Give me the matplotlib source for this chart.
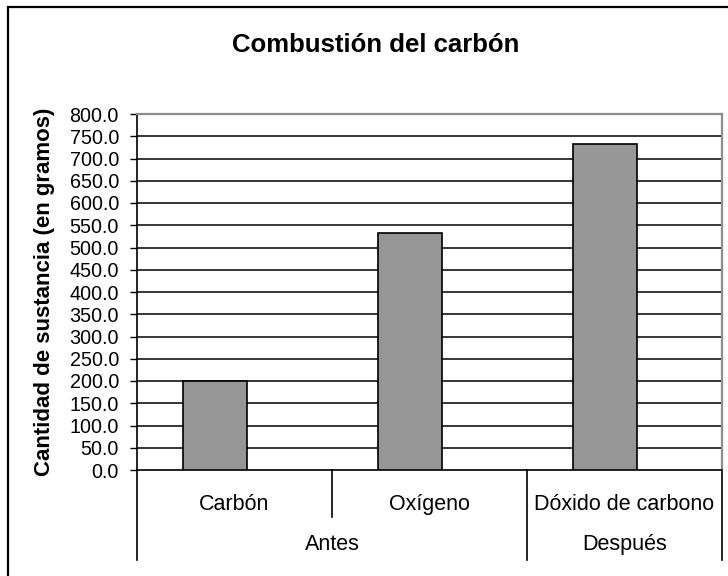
import matplotlib
matplotlib.use("Agg")
import matplotlib.pyplot as plt
from matplotlib.patches import Rectangle
from matplotlib.transforms import blended_transform_factory

plt.rcParams['font.family'] = ['Liberation Sans', 'DejaVu Sans']

# Datos de la combustión (gramos)
sustancias = ["Carbón", "Oxígeno", "Dóxido de carbono"]
cantidades = [200.0, 533.3, 733.3]
grupos = ["Antes", "Después"]
grupo_de = [0, 0, 1]
y_ticks = [i * 50 for i in range(17)]

fig = plt.figure(figsize=(7.28, 5.76), dpi=100)
ax = fig.add_axes([137 / 728, 1 - 470 / 576, 585 / 728, 356 / 576])

# marco exterior del gráfico
fig.patches.append(Rectangle((8 / 728, -0.2), 1.2, 1 - 7 / 576 + 0.2,
                             transform=fig.transFigure, fill=False,
                             edgecolor="black", linewidth=1.6))

x = list(range(len(sustancias)))
ax.bar([i - 0.1 for i in x], cantidades, width=0.333, color="#969696",
       edgecolor="black", linewidth=1.2, zorder=3)

ax.set_xlim(-0.5, len(sustancias) - 0.5)
ax.set_ylim(0, 800)
ax.set_yticks(y_ticks)
ax.set_yticklabels([f"{v:.1f}" for v in y_ticks], fontsize=14.2)
ax.tick_params(axis="y", length=5, width=1, pad=8, color="black")
ax.set_xticks([])

for v in y_ticks[1:-1]:
    ax.axhline(v, color="black", linewidth=1.1, zorder=1)

ax.spines["left"].set_linewidth(1.2)
ax.spines["bottom"].set_linewidth(1.2)
for s in ("top", "right"):
    ax.spines[s].set_color("#8c8c8c")
    ax.spines[s].set_linewidth(1.6)

fig.text(45 / 728, 1 - 292 / 576, "Cantidad de sustancia (en gramos)",
         rotation=90, ha="center", va="center", fontsize=16,
         fontweight="bold")

# ejes de categorías en dos niveles
tr = blended_transform_factory(ax.transData, ax.transAxes)
for i, nombre in enumerate(sustancias):
    ax.text(i, -0.098, nombre, transform=tr, ha="center", va="center",
            fontsize=15.5)

bordes = [-0.5]
for i in range(1, len(sustancias)):
    mismo = grupo_de[i] == grupo_de[i - 1]
    ax.plot([i - 0.5, i - 0.5], [0, -0.132 if mismo else -0.253],
            transform=tr, color="black", linewidth=1.2, clip_on=False)
    if not mismo:
        bordes.append(i - 0.5)
bordes.append(len(sustancias) - 0.5)
for b in (bordes[0], bordes[-1]):
    ax.plot([b, b], [0, -0.253], transform=tr, color="black",
            linewidth=1.2, clip_on=False)

for g, nombre in enumerate(grupos):
    ax.text((bordes[g] + bordes[g + 1]) / 2, -0.21, nombre, transform=tr,
            ha="center", va="center", fontsize=15.5)

fig.text(376 / 728, 1 - 45 / 576, "Combustión del carbón", ha="center",
         va="center", fontsize=18.5, fontweight="bold")

fig.savefig("out.png", dpi=100)
